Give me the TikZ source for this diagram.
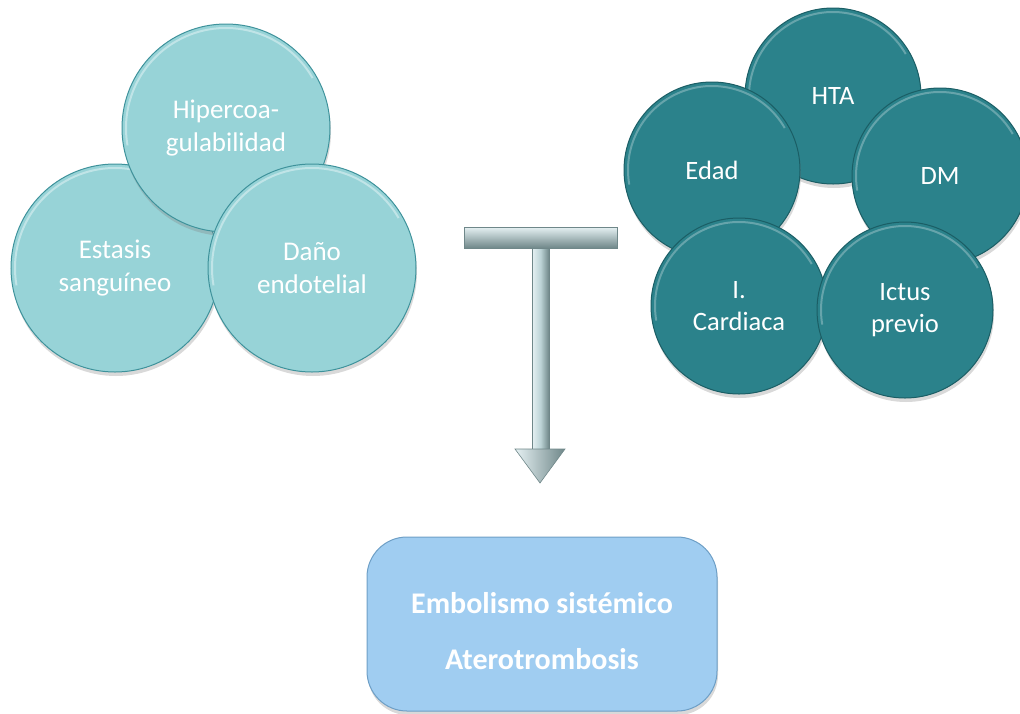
\documentclass[tikz,border=0pt]{standalone}
\usepackage{fontspec}
\setmainfont{Carlito}
\usetikzlibrary{shadows}
\definecolor{lightteal}{HTML}{97D3D7}
\definecolor{lighttealedge}{HTML}{3E929B}
\definecolor{darkteal}{HTML}{2B828B}
\definecolor{darktealedge}{HTML}{1B5E65}
\definecolor{boxblue}{HTML}{A0CDF1}
\definecolor{boxedge}{HTML}{6E9FC6}
\definecolor{silverlight}{HTML}{E6F1F3}
\definecolor{silvermid}{HTML}{BCD3D6}
\definecolor{silverdark}{HTML}{6F8789}
\begin{document}
\begin{tikzpicture}[x=1pt,y=-1pt,
  circ/.style={circle, line width=1pt, text=white, align=center,
    inner sep=0pt,
    drop shadow={opacity=0.3, shadow xshift=1pt, shadow yshift=-4pt}},
  lightcirc/.style={circ, fill=lightteal, draw=lighttealedge, minimum size=208pt,
    font=\fontsize{27}{33}\selectfont,
    path picture={\draw[white, opacity=0.4, line width=2pt]
      (path picture bounding box.center) ++(30:100pt)
      arc[start angle=30, end angle=190, radius=100pt];}},
  darkcirc/.style={circ, fill=darkteal, draw=darktealedge, minimum size=176pt,
    font=\fontsize{26.5}{32}\selectfont,
    path picture={\draw[white, opacity=0.28, line width=2pt]
      (path picture bounding box.center) ++(30:84pt)
      arc[start angle=30, end angle=190, radius=84pt];}},
  resultbox/.style={rectangle, rounded corners=40pt, fill=boxblue, draw=boxedge,
    line width=1pt, minimum width=350pt, minimum height=174pt,
    drop shadow={opacity=0.3, shadow xshift=1pt, shadow yshift=-4pt}},
  resulttext/.style={text=white, align=center, inner sep=0pt,
    font=\bfseries\fontsize{30}{56}\selectfont},
  silver/.style={draw=silverdark, line width=0.6pt}
]
\useasboundingbox (0,0) rectangle (1020,713);

% left group
\node[lightcirc] (est) at (115,268) {Estasis\\sanguíneo};
\node[lightcirc] (hip) at (226,128) {Hipercoa-\\gulabilidad};
\node[lightcirc] (dano) at (312,268) {Daño\\endotelial};

% right group
\node[darkcirc] (hta) at (833,96) {HTA};
\node[darkcirc] (edad) at (712,170) {Edad};
\node[darkcirc] (dm) at (940,176) {DM};
\node[darkcirc] (ic) at (739,306) {I.\\Cardiaca};
\node[darkcirc] (ictus) at (905,310) {Ictus\\previo};

% T arrow
\coordinate (barNW) at (464,227);
\coordinate (barSE) at (617,248);
\coordinate (tip) at (540,483);
\shade[silver, left color=silverlight, right color=silverdark, middle color=silvermid]
  (532,247) rectangle (549,452);
\shade[silver, top color=silverlight, bottom color=silverdark]
  (barNW) rectangle (barSE);
\shade[silver, left color=silverlight, right color=silverdark]
  (515,449) -- (565,449) -- (tip) -- cycle;

% result
\node[resultbox] (res) at (542,624) {};
\node[resulttext] (restext) at ([yshift=-7pt]res.center) {Embolismo sistémico\\Aterotrombosis};
\end{tikzpicture}
\end{document}
